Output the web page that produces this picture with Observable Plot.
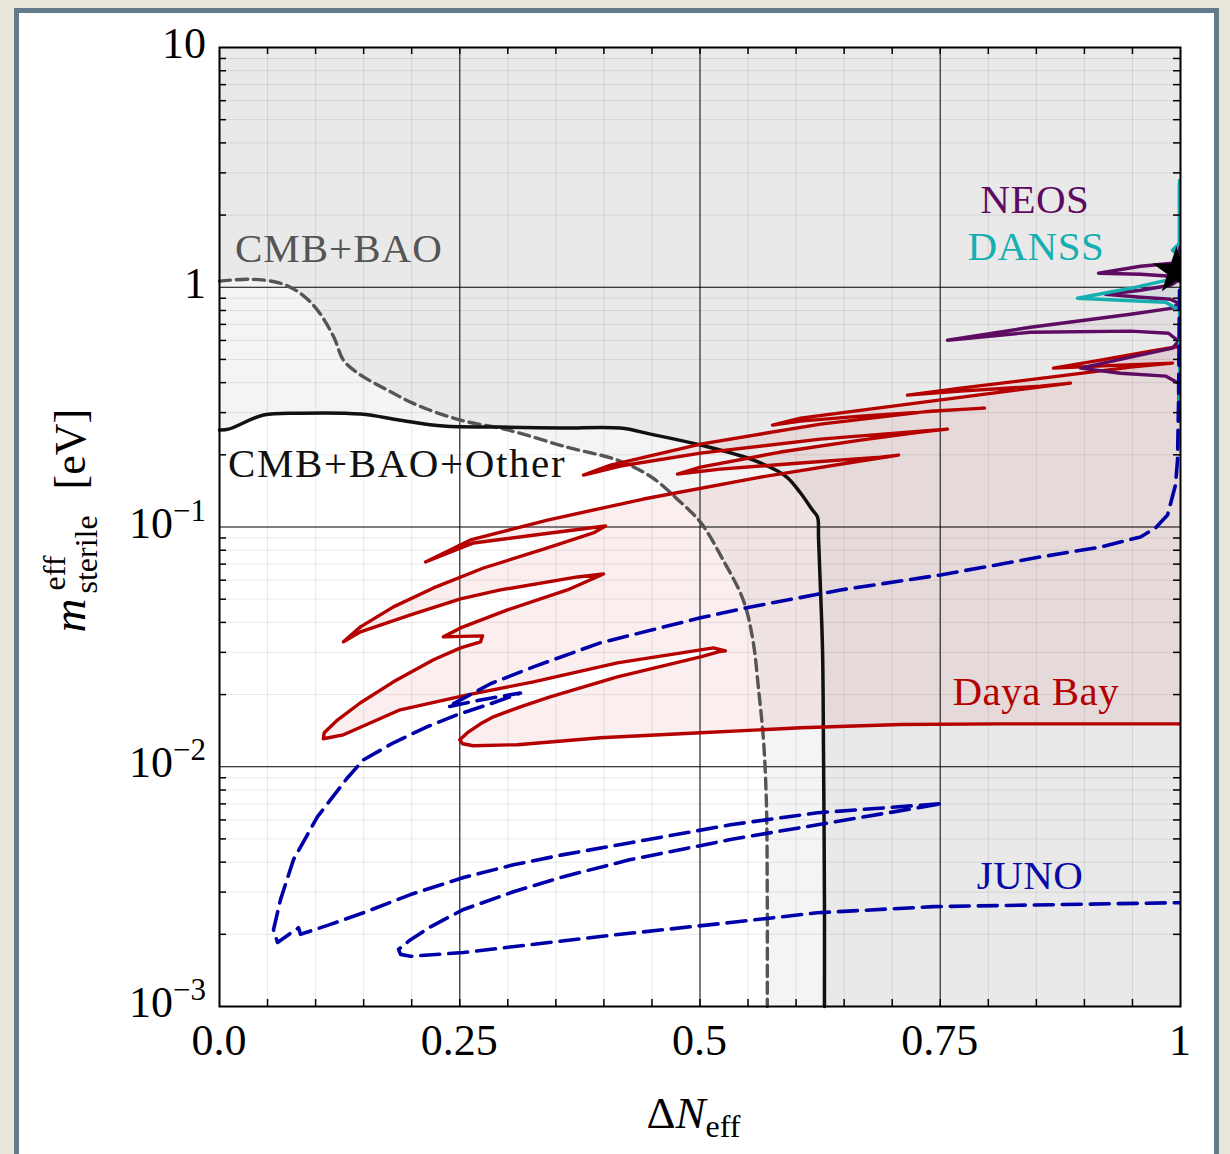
<!DOCTYPE html>
<html>
<head>
<meta charset="utf-8">
<title>Sterile neutrino effective mass vs ΔNeff</title>
<script src="https://cdn.jsdelivr.net/npm/d3@7"></script>
<script src="https://cdn.jsdelivr.net/npm/@observablehq/plot@0.6"></script>
<style>
  html, body { margin: 0; padding: 0; background: #e9e6dc; }
  #page { position: relative; width: 1230px; height: 1154px; overflow: hidden; }
  #card { position: absolute; left: 14px; top: 8px; width: 1205px; height: 1152px; box-sizing: border-box;
          background: #fff; border: 5px solid #637b8b; }
  #chart { position: absolute; left: 0; top: 0; }
  #chart svg { display: block; }
</style>
</head>
<body>
<div id="page"><div id="card"></div><div id="chart"></div></div>
<script>
// ---- axis ticks and labels ----
const xTickLabels = [[0, "0.0"], [0.25, "0.25"], [0.5, "0.5"], [0.75, "0.75"], [1, "1"]];
const yTickLabels = [[10, "10", ""], [1, "1", ""], [0.1, "10", "−1"], [0.01, "10", "−2"], [0.001, "10", "−3"]];
const xMajor = [0.25, 0.5, 0.75];
const yMajor = [0.01, 0.1, 1];
const xMinor = d3.range(1, 20).map(i => i / 20);
const yMinor = [0.001, 0.01, 0.1, 1].flatMap(d => d3.range(2, 10).map(m => m * d));

// ---- cosmological bounds (ΔNeff, m_eff in eV) ----
const cmbBao = [[0,1.06],[0.032,1.08],[0.063,1.04],[0.084,0.944],[0.102,0.802],[0.119,0.619],[0.129,0.496],
  [0.144,0.438],[0.175,0.372],[0.206,0.322],[0.251,0.279],[0.300,0.254],[0.362,0.215],[0.414,0.190],[0.449,0.162],
  [0.477,0.130],[0.501,0.104],[0.524,0.0729],[0.545,0.0496],[0.555,0.0338],[0.561,0.0209],[0.566,0.0130],
  [0.569,0.00729],[0.570,0.00279],[0.570,0.001]];
const cmbBaoOther = [[0,0.254],[0.0094,0.256],[0.0458,0.293],[0.0843,0.2985],[0.147,0.296],[0.188,0.279],
  [0.233,0.2635],[0.292,0.261],[0.355,0.2585],[0.417,0.2585],[0.4485,0.244],[0.5005,0.2197],[0.5557,0.190],
  [0.589,0.163],[0.6046,0.1386],[0.617,0.1177],[0.6223,0.110],[0.6233,0.0908],[0.625,0.0601],[0.6275,0.0307],
  [0.6285,0.01177],[0.6295,0.00279],[0.6295,0.001]];

// ---- reactor exclusion contours ----
const dayaBay = [[1.0,0.0151],[0.813,0.0151],[0.709,0.0150],[0.605,0.01454],[0.5005,0.01387],[0.3965,0.01321],
  [0.310,0.01236],[0.264,0.01223],[0.253,0.01247],[0.250,0.01296],[0.258,0.01387],[0.2716,0.0151],[0.285,0.01615],
  [0.313,0.01778],[0.344,0.01957],[0.414,0.02371],[0.5005,0.02873],[0.519,0.03015],[0.5265,0.03043],
  [0.514,0.03133],[0.414,0.02712],[0.3267,0.0226],[0.258,0.01995],[0.188,0.01728],[0.129,0.01359],[0.108,0.01309],
  [0.109,0.01387],[0.123,0.0157],[0.1467,0.01849],[0.181,0.0226],[0.2227,0.02793],[0.2508,0.03133],[0.2716,0.03319],
  [0.2737,0.03516],[0.233,0.03481],[0.2508,0.03793],[0.2997,0.04508],[0.362,0.05464],[0.3996,0.06368],
  [0.3725,0.0619],[0.2924,0.05464],[0.2508,0.05012],[0.1988,0.04299],[0.1467,0.03652],[0.129,0.03319],
  [0.1467,0.03831],[0.181,0.04642],[0.2227,0.0557],[0.2747,0.06745],[0.3413,0.08175],[0.389,0.09441],[0.4017,0.101],
  [0.3444,0.0944],[0.2643,0.0858],[0.2144,0.0715],[0.2612,0.0883],[0.3413,0.1069],[0.4412,0.1308],[0.563,0.1615],
  [0.667,0.1884],[0.7066,0.1995],[0.6878,0.1957],[0.6046,0.1848],[0.5213,0.1744],[0.4766,0.1663],
  [0.5005,0.1778],[0.5838,0.2054],[0.667,0.2304],[0.7294,0.2489],[0.7575,0.256],
  [0.7294,0.2512],[0.6254,0.2326],[0.5005,0.2033],[0.4173,0.1796],[0.3788,0.1647],
  [0.4069,0.1813],[0.5005,0.2218],[0.6254,0.2687],[0.7399,0.3043],[0.796,0.3133],
  [0.7607,0.3073],[0.667,0.2901],[0.6046,0.2765],[0.5754,0.2661],
  [0.6046,0.2846],[0.7086,0.3224],[0.8127,0.3652],[0.8855,0.3981],
  [0.8543,0.3868],[0.7711,0.3687],[0.7159,0.3548],
  [0.7711,0.3795],[0.8647,0.4217],[0.948,0.4642],[0.9917,0.4823],
  [0.9376,0.4732],[0.8678,0.4597],[0.9168,0.4966],[0.9688,0.5412],[1.0,0.568]];
const neos = [[0.999,2.712],[0.999,1.321],[0.9917,1.259],[0.9584,1.223],[0.9147,1.144],[0.9584,1.133],[0.9896,1.111],
  [0.998,1.07],[0.9896,1.019],[0.9584,0.972],[0.922,0.935],[0.9584,0.908],[0.9896,0.891],[0.998,0.858],
  [0.9917,0.818],[0.948,0.772],[0.8439,0.681],[0.7575,0.601],[0.8439,0.649],[0.948,0.656],[0.9875,0.643],
  [0.998,0.596],[0.9917,0.557],[0.948,0.511],[0.896,0.460],[0.9376,0.438],[0.9844,0.426],[0.998,0.398],[0.999,0.279]];
const danss = [[0.999,2.79],[0.999,1.525],[0.9917,1.426],[0.999,1.346],[0.999,1.10],[0.948,0.99],[0.8928,0.900],
  [0.9376,0.883],[0.9844,0.866],[0.999,0.802],[0.999,0.279]];
const juno = [[0.999,0.972],[0.998,0.338],[0.9969,0.190],[0.9948,0.1496],[0.9865,0.1122],[0.974,0.0991],
  [0.9584,0.0909],[0.9168,0.0825],[0.8543,0.075],[0.7503,0.0631],[0.6462,0.0546],[0.5525,0.0464],[0.5005,0.0418],
  [0.3965,0.0329],[0.3267,0.0261],[0.282,0.0222],[0.2373,0.01778],[0.2716,0.0190],[0.3132,0.0203],[0.282,0.0183],
  [0.2477,0.0165],[0.2164,0.0147],[0.181,0.01259],[0.1498,0.01069],[0.1332,0.0090],[0.102,0.00619],[0.077,0.0041],
  [0.0635,0.00279],[0.0562,0.00209],[0.0604,0.00185],[0.0822,0.00213],[0.0843,0.0020],[0.1155,0.0022],
  [0.1498,0.00246],[0.1988,0.00293],[0.2539,0.00345],[0.3059,0.0039],[0.358,0.0043],[0.4277,0.00482],
  [0.5317,0.00573],[0.6223,0.00643],[0.7523,0.00702],[0.6223,0.00573],[0.5317,0.00497],[0.4277,0.0041],
  [0.358,0.00348],[0.3059,0.00301],[0.2539,0.00254],[0.2196,0.00215],[0.1988,0.0019],[0.1863,0.00173],
  [0.1884,0.00165],[0.1988,0.00162],[0.2539,0.00168],[0.3965,0.00196],[0.5317,0.00224],[0.6223,0.00246],
  [0.743,0.00261],[0.999,0.00271]];
const bestFit = [[0.9958, 1.166]];

// ---- text annotations ----
const notes = [
  {text: "CMB+BAO", x: 0.0166, y: 1.27, color: "#555555", anchor: "start", spacing: 1},
  {text: "CMB+BAO+Other", x: 0.0094, y: 0.1615, color: "#111111", anchor: "start", spacing: 1.6},
  {text: "NEOS", x: 0.849, y: 2.033, color: "#5e0b62", anchor: "middle", spacing: 0.5},
  {text: "DANSS", x: 0.850, y: 1.296, color: "#16aeb0", anchor: "middle", spacing: 0.5},
  {text: "Daya Bay", x: 0.850, y: 0.01795, color: "#b40000", anchor: "middle", spacing: 0.5},
  {text: "JUNO", x: 0.844, y: 0.00307, color: "#0a0aa8", anchor: "middle", spacing: 0.5}
];

const X = d => d[0], Y = d => d[1];
// region above/right of a bound, closed along the top-right of the frame
const excluded = c => [...c, [1, 0.001], [1, 10], [0, 10]];
const tickX = 7 / 961, tickY = Math.pow(10, 7 / 240);
const tickStyle = {stroke: "#000", strokeWidth: 1.5};

const chart = Plot.plot({
  width: 1230, height: 1154,
  marginLeft: 219, marginRight: 50, marginTop: 47, marginBottom: 148,
  style: {background: "transparent"},
  x: {domain: [0, 1], axis: null},
  y: {type: "log", domain: [1e-3, 10], axis: null},
  marks: [
    Plot.line(excluded(cmbBao), {x: X, y: Y, fill: "#000", fillOpacity: 0.045, stroke: "none"}),
    Plot.line(excluded(cmbBaoOther), {x: X, y: Y, fill: "#000", fillOpacity: 0.045, stroke: "none"}),
    Plot.line(dayaBay, {x: X, y: Y, fill: "#c00000", fillOpacity: 0.065, stroke: "none"}),
    Plot.line(neos, {x: X, y: Y, fill: "#5e0b62", fillOpacity: 0.05, stroke: "none"}),
    Plot.line(danss, {x: X, y: Y, fill: "#16aeb0", fillOpacity: 0.07, stroke: "none"}),
    Plot.ruleX(xMinor.filter(v => !xMajor.includes(v)), {stroke: "#000", strokeOpacity: 0.085}),
    Plot.ruleY(yMinor, {stroke: "#000", strokeOpacity: 0.085}),
    Plot.ruleX(xMajor, {stroke: "#444", strokeWidth: 1.4}),
    Plot.ruleY(yMajor, {stroke: "#000", strokeWidth: 1.1}),
    Plot.line(cmbBao, {x: X, y: Y, stroke: "#555", strokeWidth: 3.4, strokeDasharray: "11,6", curve: "catmull-rom"}),
    Plot.line(cmbBaoOther, {x: X, y: Y, stroke: "#111", strokeWidth: 3.5, curve: "catmull-rom"}),
    Plot.line(dayaBay, {x: X, y: Y, stroke: "#b50000", strokeWidth: 3.4, strokeLinejoin: "round", clip: true}),
    Plot.line(neos, {x: X, y: Y, stroke: "#5e0b62", strokeWidth: 3.4, strokeLinejoin: "round", clip: true}),
    Plot.line(danss, {x: X, y: Y, stroke: "#16aeb0", strokeWidth: 3.4, strokeLinejoin: "round", clip: true}),
    Plot.line(juno, {x: X, y: Y, stroke: "#0000a8", strokeWidth: 3.6, strokeDasharray: "19,9", clip: true}),
    Plot.ruleX(xMinor, {x: d => d, y1: 1e-3, y2: 1e-3 * tickY, ...tickStyle}),
    Plot.ruleX(xMinor, {x: d => d, y1: 10 / tickY, y2: 10, ...tickStyle}),
    Plot.ruleY(yMinor, {y: d => d, x1: 0, x2: tickX, ...tickStyle}),
    Plot.ruleY(yMinor, {y: d => d, x1: 1 - tickX, x2: 1, ...tickStyle}),
    Plot.frame({stroke: "#000", strokeWidth: 2}),
    Plot.dot(bestFit, {x: X, y: Y, symbol: "star", r: 15, fill: "#000", stroke: "none", clip: true})
  ]
});
document.getElementById("chart").appendChild(chart);

// ---- typeset labels positioned with the chart's scales ----
const sx = chart.scale("x"), sy = chart.scale("y");
const svg = d3.select(chart);
const FONT = "'Liberation Serif', 'DejaVu Serif', serif";
const g = svg.append("g").attr("font-family", FONT).attr("fill", "#000").attr("text-anchor", "start");

for (const [v, s] of xTickLabels) {
  g.append("text").attr("x", sx.apply(v)).attr("y", sy.apply(1e-3) + 49)
    .attr("text-anchor", "middle").attr("font-size", 44).text(s);
}
for (const [v, base, exp] of yTickLabels) {
  const t = g.append("text").attr("x", 206).attr("y", sy.apply(v) + 11)
    .attr("text-anchor", "end").attr("font-size", 44);
  t.append("tspan").text(base);
  if (exp) t.append("tspan").attr("dy", -17).attr("font-size", 31).text(exp);
}

// x-axis title: ΔN_eff
const xt = g.append("text").attr("x", sx.apply(0.5) - 53).attr("y", sy.apply(1e-3) + 122).attr("font-size", 45);
xt.append("tspan").text("Δ");
xt.append("tspan").attr("font-style", "italic").text("N");
xt.append("tspan").attr("font-size", 32).attr("dy", 9).text("eff");

// y-axis title: m^eff_sterile [eV], set as pieces in a rotated frame
const yt = g.append("g").attr("transform", `translate(85,${sy.apply(0.1) + 106}) rotate(-90)`);
yt.append("text").attr("x", 0).attr("y", 0).attr("font-size", 47).attr("font-style", "italic").text("m");
yt.append("text").attr("x", 42).attr("y", -20).attr("font-size", 32).text("eff");
yt.append("text").attr("x", 39).attr("y", 12).attr("font-size", 32).text("sterile");
yt.append("text").attr("x", 143).attr("y", 0).attr("font-size", 44).text("[eV]");

for (const n of notes) {
  g.append("text").attr("x", sx.apply(n.x)).attr("y", sy.apply(n.y))
    .attr("text-anchor", n.anchor).attr("font-size", 41).attr("letter-spacing", n.spacing)
    .attr("fill", n.color).text(n.text);
}
</script>
</body>
</html>
